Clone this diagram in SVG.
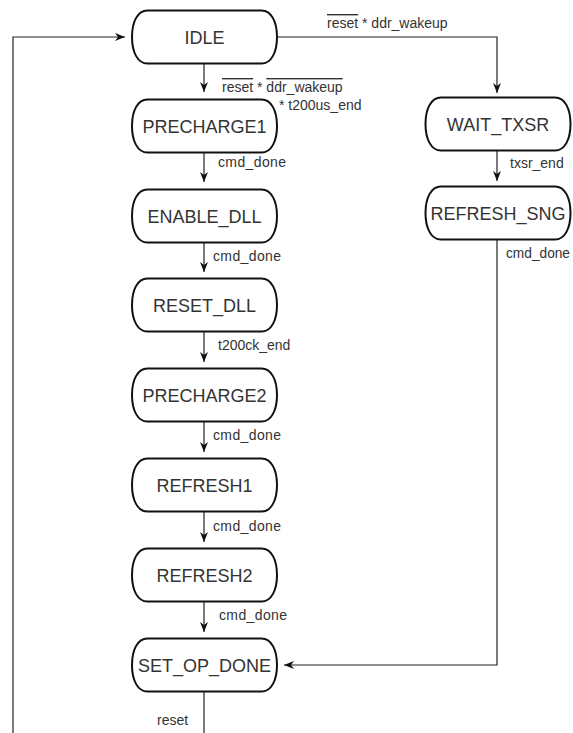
<svg xmlns="http://www.w3.org/2000/svg" xmlns:xlink="http://www.w3.org/1999/xlink" width="573" height="733" viewBox="0 0 573 733">
<style>
.node{fill:#fff;stroke:#111;stroke-width:2}
.nt{font-family:"Liberation Sans",Arial,sans-serif;font-size:18px;fill:#333;text-anchor:middle}
.lbl{font-family:"Liberation Sans",Arial,sans-serif;font-size:14px;fill:#333}
.ov{text-decoration:overline}
.con{fill:none;stroke:#222;stroke-width:1.2;marker-end:url(#ah)}
.con2{fill:none;stroke:#222;stroke-width:1.2}
</style>
<defs>
<marker id="ah" markerUnits="userSpaceOnUse" markerWidth="11" markerHeight="8" refX="10" refY="4" orient="auto">
<path d="M0,0 L10,4 L0,8 L3,4 Z" fill="#111"/>
</marker>
<path id="stadium" class="node" d="M-57,-26.5 H57 C67,-26.5 72.5,-15 72.5,0 C72.5,15 67,26.5 57,26.5 H-57 C-67,26.5 -72.5,15 -72.5,0 C-72.5,-15 -67,-26.5 -57,-26.5 Z"/>
</defs>
<rect width="573" height="733" fill="#fff"/>
<g id="connectors">
<path class="con" d="M13,733 V37 H125"/>
<path class="con" d="M204,63.5 V92"/>
<path class="con" d="M277,37 H497 V93"/>
<path class="con" d="M204,152.5 V182"/>
<path class="con" d="M204,242.5 V272"/>
<path class="con" d="M204,331.5 V362"/>
<path class="con" d="M204,421.5 V452"/>
<path class="con" d="M204,511.5 V542"/>
<path class="con" d="M204,601.5 V632"/>
<path class="con2" d="M204,691.5 V733"/>
<path class="con" d="M497,150.5 V181"/>
<path class="con" d="M497,239.5 V665 H284"/>
<text class="lbl" x="327" y="28"><tspan class="ov">reset</tspan> * ddr_wakeup</text>
<text class="lbl" x="222" y="92"><tspan class="ov">reset</tspan> * <tspan class="ov">ddr_wakeup</tspan></text>
<text class="lbl" x="279" y="110">* t200us_end</text>
<text class="lbl" x="218" y="167" textLength="68" lengthAdjust="spacing">cmd_done</text>
<text class="lbl" x="213" y="261" textLength="68" lengthAdjust="spacing">cmd_done</text>
<text class="lbl" x="218" y="350">t200ck_end</text>
<text class="lbl" x="213" y="440" textLength="68" lengthAdjust="spacing">cmd_done</text>
<text class="lbl" x="213" y="531" textLength="68" lengthAdjust="spacing">cmd_done</text>
<text class="lbl" x="219" y="620" textLength="68" lengthAdjust="spacing">cmd_done</text>
<text class="lbl" x="157" y="725">reset</text>
<text class="lbl" x="510" y="168">txsr_end</text>
<text class="lbl" x="506" y="258" textLength="64" lengthAdjust="spacingAndGlyphs">cmd_done</text>
</g>
<g id="IDLE" transform="translate(204.5,37)"><use href="#stadium" xlink:href="#stadium"/><text class="nt" y="6.5">IDLE</text></g>
<g id="PRECHARGE1" transform="translate(204.5,126)"><use href="#stadium" xlink:href="#stadium"/><text class="nt" y="6.5">PRECHARGE1</text></g>
<g id="ENABLE_DLL" transform="translate(204.5,216)"><use href="#stadium" xlink:href="#stadium"/><text class="nt" y="6.5">ENABLE_DLL</text></g>
<g id="RESET_DLL" transform="translate(204.5,305)"><use href="#stadium" xlink:href="#stadium"/><text class="nt" y="6.5">RESET_DLL</text></g>
<g id="PRECHARGE2" transform="translate(204.5,395)"><use href="#stadium" xlink:href="#stadium"/><text class="nt" y="6.5">PRECHARGE2</text></g>
<g id="REFRESH1" transform="translate(204.5,485)"><use href="#stadium" xlink:href="#stadium"/><text class="nt" y="6.5">REFRESH1</text></g>
<g id="REFRESH2" transform="translate(204.5,575)"><use href="#stadium" xlink:href="#stadium"/><text class="nt" y="6.5">REFRESH2</text></g>
<g id="SET_OP_DONE" transform="translate(204.5,665)"><use href="#stadium" xlink:href="#stadium"/><text class="nt" y="6.5">SET_OP_DONE</text></g>
<g id="WAIT_TXSR" transform="translate(498,124)"><use href="#stadium" xlink:href="#stadium"/><text class="nt" y="6.5">WAIT_TXSR</text></g>
<g id="REFRESH_SNG" transform="translate(498,213)"><use href="#stadium" xlink:href="#stadium"/><text class="nt" y="6.5">REFRESH_SNG</text></g>
</svg>
